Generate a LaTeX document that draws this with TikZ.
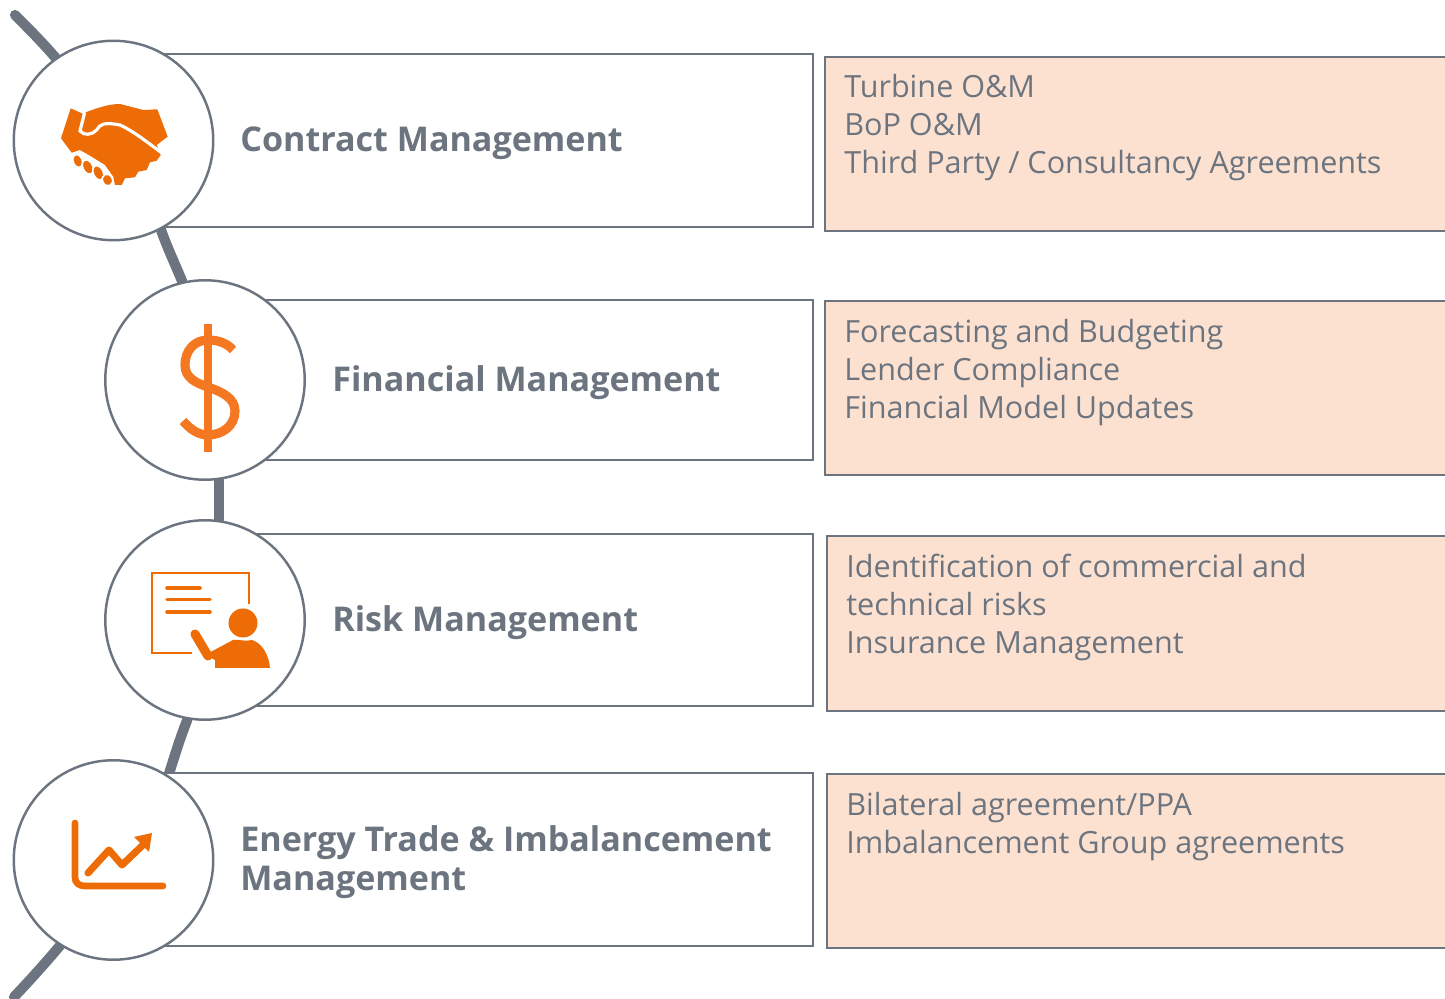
\documentclass[tikz,border=0pt]{standalone}
\usepackage{fontspec}
\usetikzlibrary{backgrounds}
\setmainfont{Open Sans}
\definecolor{slate}{HTML}{6C757F}
\definecolor{peach}{HTML}{FCE1D1}
\definecolor{iconorange}{HTML}{EE6C06}
\definecolor{dollarorange}{HTML}{F47721}
\tikzset{
	spine/.style={slate, line width=5.8pt, line cap=round},
	stage/.style={circle, draw=slate, fill=white, line width=1.4pt, minimum size=5.62cm*0.71, inner sep=0pt},
	leftbox/.style={rectangle, draw=slate, fill=white, line width=1.1pt, inner sep=0pt},
	rightbox/.style={rectangle, draw=slate, fill=peach, line width=1.1pt, inner sep=0pt},
	title/.style={anchor=west, slate, align=left, inner sep=0pt, font=\fontsize{19.4}{22}\selectfont\bfseries},
	items/.style={anchor=north west, slate, align=left, inner sep=0pt, font=\fontsize{17.4}{21.6}\selectfont},
	finger/.style={fill=iconorange, draw=white, line width=0.9pt},
}
\begin{document}
\begin{tikzpicture}[x=0.02cm, y=-0.02cm]
	\useasboundingbox (0,0) rectangle (1445,999);

	% boxes on the right, they run off the page
	\node at (1150,144) (contractitems) [rightbox, minimum width=13.0cm, minimum height=3.48cm] {};
	\node at (1150,388) (financeitems) [rightbox, minimum width=13.0cm, minimum height=3.48cm] {};
	\node at (1151,623.5) (riskitems) [rightbox, minimum width=12.96cm, minimum height=3.5cm] {};
	\node at (1151,861) (tradeitems) [rightbox, minimum width=12.96cm, minimum height=3.48cm] {};

	% boxes on the left
	\node at (463,140.5) (contractbox) [leftbox, minimum width=14cm, minimum height=3.46cm] {};
	\node at (509,380) (financebox) [leftbox, minimum width=12.16cm, minimum height=3.2cm] {};
	\node at (509,620) (riskbox) [leftbox, minimum width=12.16cm, minimum height=3.44cm] {};
	\node at (463,859.5) (tradebox) [leftbox, minimum width=14cm, minimum height=3.46cm] {};

	% circles
	\node at (113.5,140.5) (contract) [stage] {};
	\node at (205,380) (finance) [stage] {};
	\node at (205,620) (risk) [stage] {};
	\node at (113.5,860) (trade) [stage] {};

	% spine
	\coordinate (spinetop) at (15,15);
	\coordinate (spinebottom) at (14,997);
	\begin{pgfonlayer}{background}
	\draw[spine] (spinetop) .. controls (28,28) and (42,42) .. (contract.125);
	\draw[spine] (contract.-62) .. controls (167,247) and (175,264) .. (finance.103);
	\draw[spine] (finance.-82) -- (risk.82);
	\draw[spine] (risk.-100) .. controls (180,738) and (175,755) .. (trade.57);
	\draw[spine] (trade.-122) .. controls (48,960) and (32,978) .. (spinebottom);
	\end{pgfonlayer}

	% labels
	\node at (240,143) (contracttitle) [title] {Contract Management};
	\node at (332,383) (financetitle) [title] {Financial Management};
	\node at (332,623) (risktitle) [title] {Risk Management};
	\node at (240,862) (tradetitle) [title] {Energy Trade \& Imbalancement\\Management};

	\node at (844,74) (contracttext) [items] {Turbine O\&M\\BoP O\&M\\Third Party / Consultancy Agreements};
	\node at (844,319) (financetext) [items] {Forecasting and Budgeting\\Lender Compliance\\Financial Model Updates};
	\node at (846,554) (risktext) [items] {Identification of commercial and\\technical risks\\Insurance Management};
	\node at (846,792) (tradetext) [items] {Bilateral agreement/PPA\\Imbalancement Group agreements};

	% handshake
	\fill[iconorange] (70.7,108.3) -- (83.3,114) -- (87.3,111.7) .. controls (100,107) and (110,104) .. (120,104) -- (143.3,110) -- (157.3,109.3) -- (167.7,136.7) -- (156.7,145) -- (160.7,155) -- (156.7,160.7) -- (150,162.3) -- (146.7,170) -- (138.3,171.7) -- (135,177.3) -- (125,178.3) -- (121.7,185) -- (115,185) -- (113.3,176.7) -- (105,165) -- (91.7,156.7) -- (80,150) -- (71.7,152.7) -- (61,138.3) -- cycle;
	\draw[white, line width=1.8pt] (84.5,113) -- (80,131) .. controls (84,136) and (92,135) .. (96.7,130) .. controls (100,124) and (104,122) .. (120,125) .. controls (135,132) and (148,143) .. (162,153);
	\draw[finger, rotate around={20:(77.7,161)}] (77.7,161) ellipse (4.6 and 6.6);
	\draw[finger, rotate around={25:(87.8,167)}] (87.8,167) ellipse (5 and 7.5);
	\draw[finger, rotate around={25:(98.3,172.8)}] (98.3,172.8) ellipse (5 and 7.5);
	\draw[finger, rotate around={25:(107.5,180)}] (107.5,180) ellipse (5 and 6);

	% dollar
	\draw[dollarorange, line width=5pt] (208,324) -- (208,452);
	\draw[dollarorange, line width=5.2pt] (233,350) .. controls (226,342) and (216,340) .. (208,340) .. controls (194,340) and (185,351) .. (185,365) .. controls (185,378) and (196,383) .. (208,387) .. controls (222,392) and (235,398) .. (235,411) .. controls (235,426) and (222,435) .. (208,435) .. controls (198,435) and (190,429) .. (183,421);

	% presenter
	\draw[iconorange, line width=1.7pt] (249,604) -- (249,573) -- (152,573) -- (152,653) -- (192,653);
	\draw[iconorange, line width=2pt, line cap=round] (167,588) -- (200,588);
	\draw[iconorange, line width=2pt, line cap=round] (167,599.5) -- (210,599.5);
	\draw[iconorange, line width=2pt, line cap=round] (167,612) -- (210,612);
	\fill[iconorange] (243,623) circle (14.5);
	\fill[iconorange] (215,668) -- (215,660) -- (205,655) -- (233,640) .. controls (238,639) and (246,642) .. (252,640) .. controls (262,643) and (269,655) .. (270,668) -- cycle;
	\draw[iconorange, line width=5.2pt, line cap=round] (195,634) -- (208,656);

	% chart
	\draw[iconorange, line width=3.8pt, line cap=round] (75,823) -- (75,877) .. controls (75,883) and (79,886) .. (85,886) -- (163,886);
	\draw[iconorange, line width=4pt, line cap=round, line join=round] (88,873) -- (109,850) -- (122,865) -- (143,845);
	\fill[iconorange] (134,837) -- (152,833) -- (149,852) -- cycle;
\end{tikzpicture}
\end{document}
